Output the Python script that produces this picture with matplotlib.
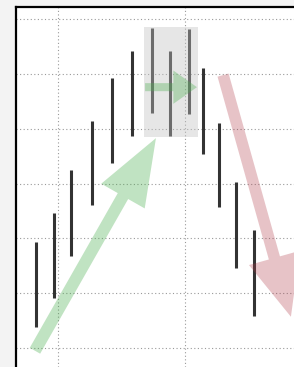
import matplotlib
matplotlib.use("Agg")
import matplotlib.pyplot as plt
from matplotlib.patches import Rectangle

# high-low bars (x position, high, low)
bar_x = [-1.2, -0.2, 0.7, 1.9, 3.0, 4.1, 5.2, 6.2, 7.2, 8.0, 8.9, 9.8, 10.8]
highs = [1.93, 2.46, 3.25, 4.14, 4.93, 5.42, 5.84, 5.42, 5.82, 5.11, 4.11, 3.03, 2.15]
lows = [0.38, 0.91, 1.68, 2.61, 3.38, 3.87, 4.29, 3.87, 4.27, 3.54, 2.57, 1.46, 0.58]

# consolidation zone
zone_x = [4.74, 7.72]
zone_y = [3.85, 5.86]

# trend arrows: (start, end)
up_trend = [(-1.27, -0.05), (5.40, 3.83)]
side_trend = [(4.80, 4.76), (7.66, 4.76)]
down_trend = [(9.10, 4.98), (12.84, 0.57)]

grid_x = [0, 7]
grid_y = [0, 1, 2, 3, 4, 5, 6]

fig = plt.figure(figsize=(2.94, 3.67), dpi=100, facecolor="#f3f3f3")
ax = fig.add_axes([16 / 294, 0, 278 / 294, 360 / 367])
ax.set_facecolor("white")
ax.set_xlim(-2.315, 13.01)
ax.set_ylim(-0.347, 6.223)

ax.set_xticks(grid_x)
ax.set_yticks(grid_y)
ax.tick_params(length=0, labelleft=False, labelbottom=False)
ax.grid(True, color="#999999", linestyle=(0, (1, 2.2)), linewidth=0.8, zorder=0)
ax.set_axisbelow(True)

for side in ["right", "bottom"]:
    ax.spines[side].set_visible(False)
for side in ["left", "top"]:
    ax.spines[side].set_linewidth(1.6)
    ax.spines[side].set_color("black")

ax.vlines(bar_x, lows, highs, colors="#333333", linewidth=2.2, zorder=2)

ax.add_patch(Rectangle((zone_x[0], zone_y[0]), zone_x[1] - zone_x[0], zone_y[1] - zone_y[0],
                       facecolor="#c2c2c2", alpha=0.4, edgecolor="none", zorder=3))


def trend_arrow(pts, color, alpha, tail, head_w, head_l):
    ax.annotate("", xy=pts[1], xytext=pts[0],
                arrowprops=dict(arrowstyle="simple,head_length=%g,head_width=%g,tail_width=%g"
                                           % (head_l, head_w, tail),
                                mutation_scale=1, shrinkA=0, shrinkB=0,
                                facecolor=color, edgecolor="none", alpha=alpha),
                zorder=4)


trend_arrow(up_trend, "#4caf50", 0.35, 8.6, 36, 48)
trend_arrow(side_trend, "#4caf50", 0.35, 5.8, 24, 17)
trend_arrow(down_trend, "#b03a48", 0.3, 8.3, 38, 44)

fig.savefig("out.png", dpi=100, facecolor=fig.get_facecolor())
